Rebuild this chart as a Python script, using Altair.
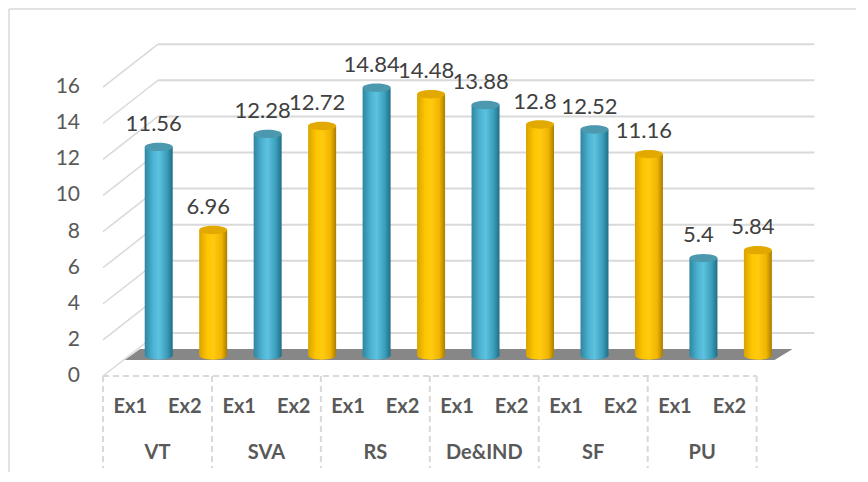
import altair as alt
import pandas as pd

# ---------------- data ----------------
groups = ["VT", "SVA", "RS", "De&IND", "SF", "PU"]
series = ["Ex1", "Ex2"]
ex1_values = [11.56, 12.28, 14.84, 13.88, 12.52, 5.4]
ex2_values = [6.96, 12.72, 14.48, 12.8, 11.16, 5.84]
y_ticks = [0, 2, 4, 6, 8, 10, 12, 14, 16]

# ---------------- geometry (pseudo-3D layout constants) ----------------
X_MAX = 13.2      # x units (one unit = one category slot)
Y_MAX = 18.5
W = 719
H = 334
BAR_SHIFT = 0.523  # bars sit behind/right of the front axis
BAR_HALF = 0.257
BASE = 1.13        # bar base height above front axis
BACK_DX = 1.01     # back wall offset
BACK_DY = 2.38
WALL_RIGHT = 13.06

rows = []
for gi, g in enumerate(groups):
    for si, (s, vals) in enumerate(zip(series, [ex1_values, ex2_values])):
        v = vals[gi]
        rows.append({"group": g, "series": s, "slot": gi * 2 + si,
                     "value": v, "label": f"{v:g}"})
bars = pd.DataFrame(rows)
ticks = pd.DataFrame({"v": y_ticks})
grp = pd.DataFrame({"group": groups, "gi": list(range(len(groups)))})
seps = pd.DataFrame({"s": list(range(len(groups) + 1))})
one = pd.DataFrame({"a": [0]})

xs = alt.Scale(domain=[0, X_MAX], nice=False, zero=False)
ys = alt.Scale(domain=[0, Y_MAX], nice=False, zero=False)

GRID = "#D9D9D9"
TXT = "#595959"

blue_grad = {"gradient": "linear", "x1": 0, "x2": 1, "y1": 0, "y2": 0,
             "stops": [{"offset": 0, "color": "#2E86A0"},
                       {"offset": 0.3, "color": "#4DB3D2"},
                       {"offset": 0.5, "color": "#5DC2E0"},
                       {"offset": 0.8, "color": "#3A9DBA"},
                       {"offset": 1, "color": "#1F6E85"}]}
yellow_grad = {"gradient": "linear", "x1": 0, "x2": 1, "y1": 0, "y2": 0,
               "stops": [{"offset": 0, "color": "#D9A300"},
                         {"offset": 0.3, "color": "#FFC600"},
                         {"offset": 0.5, "color": "#FFCB10"},
                         {"offset": 0.8, "color": "#F0B400"},
                         {"offset": 1, "color": "#A87E00"}]}
ELLIPSE = "M-1,0A1,0.3,0,1,0,1,0A1,0.3,0,1,0,-1,0Z"

base_bars = alt.Chart(bars).transform_calculate(
    xc=f"datum.slot + 0.5 + {BAR_SHIFT}",
    x0=f"datum.slot + 0.5 + {BAR_SHIFT} - {BAR_HALF}",
    x1=f"datum.slot + 0.5 + {BAR_SHIFT} + {BAR_HALF}",
    ytop=f"datum.value + {BASE}",
    ybase=f"{BASE}",
)

# frame
frame_left = alt.Chart(one).mark_rule(color=GRID, strokeWidth=1.5).encode(
    x=alt.value(-94), y=alt.value(-33), y2=alt.value(H + 140))
frame_top = alt.Chart(one).mark_rule(color=GRID, strokeWidth=1.5).encode(
    x=alt.value(-94), x2=alt.value(W + 60), y=alt.value(-33))

tick_base = alt.Chart(ticks).transform_calculate(
    vb=f"datum.v + {BACK_DY}", dx0="0", dx1=f"{BACK_DX}", xr=f"{WALL_RIGHT}")

wall = tick_base.mark_rule(color=GRID, strokeWidth=2).encode(
    x=alt.X("dx1:Q", scale=xs, axis=None), x2="xr:Q",
    y=alt.Y("vb:Q", scale=ys, axis=None))
diag = tick_base.mark_rule(color=GRID, strokeWidth=1.5).encode(
    x=alt.X("dx0:Q", scale=xs, axis=None), x2="dx1:Q",
    y=alt.Y("v:Q", scale=ys, axis=None), y2="vb:Q")

floor = alt.Chart(one).transform_calculate(
    pts="[[0.89, 0.40, 12.33], [1.5, 0.68, 12.66]]"
).transform_flatten(["pts"]).transform_calculate(
    fy="datum.pts[0]", fx1="datum.pts[1]", fx2="datum.pts[2]"
).mark_area(orient="horizontal", color="#7A7A7A", opacity=0.9).encode(
    y=alt.Y("fy:Q", scale=ys, axis=None),
    x=alt.X("fx1:Q", scale=xs, axis=None), x2="fx2:Q")


def cyl(s, grad, topc):
    b = base_bars.transform_filter(alt.datum.series == s)
    body = b.mark_bar(color=grad).encode(
        x=alt.X("x0:Q", scale=xs, axis=None), x2="x1:Q",
        y=alt.Y("ybase:Q", scale=ys, axis=None), y2="ytop:Q")
    bottom = b.mark_point(shape=ELLIPSE, size=784, filled=True, fill=grad,
                          opacity=1, strokeWidth=0).encode(
        x=alt.X("xc:Q", scale=xs, axis=None),
        y=alt.Y("ybase:Q", scale=ys, axis=None))
    top = b.mark_point(shape=ELLIPSE, size=784, filled=True, fill=topc,
                       opacity=1, strokeWidth=0).encode(
        x=alt.X("xc:Q", scale=xs, axis=None),
        y=alt.Y("ytop:Q", scale=ys, axis=None))
    return [bottom, body, top]


vlabels = base_bars.mark_text(dx=-5, dy=-16, baseline="alphabetic",
                              fontSize=22, font="Lato", color="#404040").encode(
    x=alt.X("xc:Q", scale=xs, axis=None),
    y=alt.Y("ytop:Q", scale=ys, axis=None),
    text="label:N")

ylabels = alt.Chart(ticks).transform_calculate(x0="0").mark_text(
    align="right", baseline="middle", dx=-23, fontSize=21, font="Lato",
    color=TXT).encode(
    x=alt.X("x0:Q", scale=xs, axis=None),
    y=alt.Y("v:Q", scale=ys, axis=None),
    text="v:N")

cat_top = alt.Chart(one).transform_calculate(
    a0="0", a1=f"{2 * len(groups)}").mark_rule(
    color=GRID, strokeWidth=2, strokeDash=[6, 4]).encode(
    x=alt.X("a0:Q", scale=xs, axis=None), x2="a1:Q", y=alt.value(H))
cat_seps = alt.Chart(seps).transform_calculate(xs_="datum.s * 2").mark_rule(
    color=GRID, strokeWidth=2, strokeDash=[6, 4]).encode(
    x=alt.X("xs_:Q", scale=xs, axis=None), y=alt.value(H), y2=alt.value(H + 92))

ex_labels = base_bars.transform_calculate(xl="datum.slot + 0.5").mark_text(
    baseline="middle", fontSize=20, font="Lato", fontWeight="bold",
    color=TXT).encode(
    x=alt.X("xl:Q", scale=xs, axis=None), y=alt.value(H + 31), text="series:N")
g_labels = alt.Chart(grp).transform_calculate(gx="datum.gi * 2 + 1").mark_text(
    baseline="middle", fontSize=20, font="Lato", fontWeight="bold",
    color=TXT).encode(
    x=alt.X("gx:Q", scale=xs, axis=None), y=alt.value(H + 77), text="group:N")

layers = [frame_left, frame_top, wall, diag, floor]
layers += cyl("Ex1", blue_grad, "#4B98AF")
layers += cyl("Ex2", yellow_grad, "#E2A900")
layers += [vlabels, ylabels, cat_top, cat_seps, ex_labels, g_labels]

chart = alt.layer(*layers).properties(
    width=W, height=H,
    autosize=alt.AutoSizeParams(type="none"),
    padding={"left": 95, "top": 34, "right": 34, "bottom": 96},
    background="white",
).configure_view(stroke=None)

chart.save("out.html", embed_options={"renderer": "svg", "actions": False})
